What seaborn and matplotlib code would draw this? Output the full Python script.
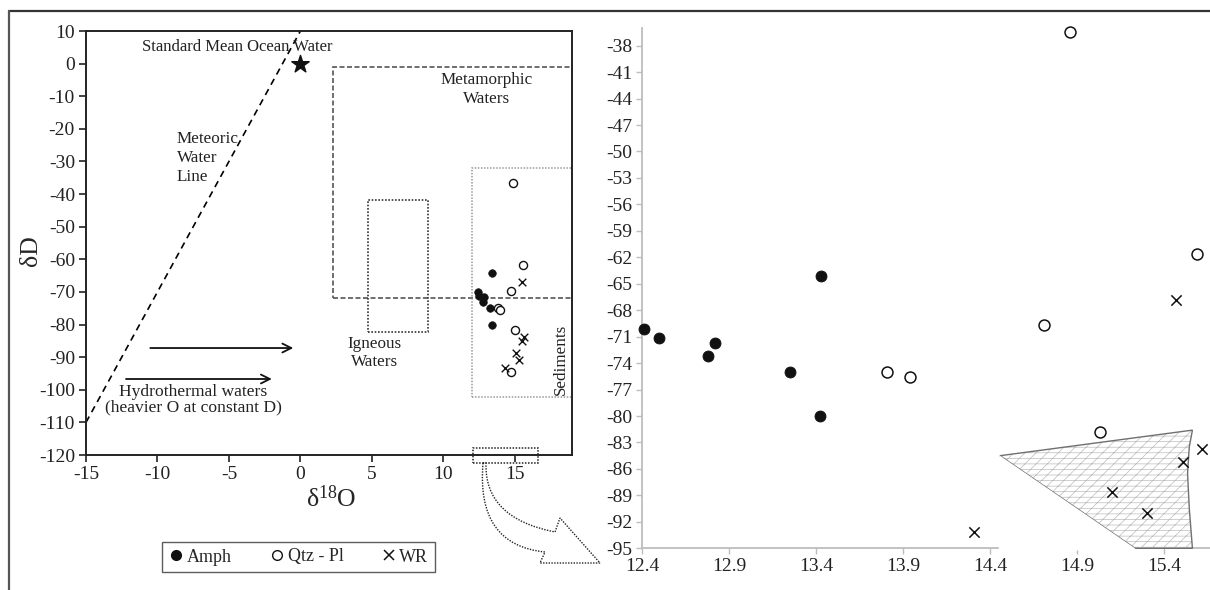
import matplotlib
matplotlib.use("Agg")
import matplotlib.pyplot as plt
import seaborn as sns
import numpy as np
import pandas as pd
from matplotlib.patches import Rectangle, Polygon, PathPatch
from matplotlib.path import Path
from matplotlib.lines import Line2D

# ---------------- data ----------------
amph_d18o = [12.41, 12.50, 12.82, 12.78, 13.25, 13.42, 13.43]
amph_dD = [-70.1, -71.1, -71.7, -73.2, -75.0, -80.0, -64.1]
qtz_d18o = [13.81, 13.94, 14.71, 15.03, 14.86, 15.59, 14.75]
qtz_dD = [-75.0, -75.6, -69.7, -81.8, -36.5, -61.6, -94.5]
wr_d18o = [14.31, 15.47, 15.62, 15.51, 15.10, 15.30]
wr_dD = [-93.2, -66.9, -83.7, -85.2, -88.6, -91.0]
smow_d18o = [0.0]
smow_dD = [0.0]

series_labels = ["Amph", "Qtz - Pl", "WR"]
left_xticks = [-15, -10, -5, 0, 5, 10, 15]
left_yticks = list(range(-120, 11, 10))
right_xticks = [12.4, 12.9, 13.4, 13.9, 14.4, 14.9, 15.4]
right_yticks = list(range(-95, -37, 3))

# meteoric water line: dD = 8*d18O + 10
mwl_d18o = [-15, 0]
mwl_dD = [8 * v + 10 for v in mwl_d18o]

# ---------------- style ----------------
sns.set_theme(style="white")
plt.rcParams["font.family"] = ["Liberation Serif", "DejaVu Serif"]
plt.rcParams["mathtext.default"] = "regular"
plt.rcParams["axes.unicode_minus"] = False
plt.rcParams["hatch.linewidth"] = 0.5

W, H = 1210, 590
fig = plt.figure(figsize=(W / 100, H / 100), dpi=100)
fig.patch.set_facecolor("white")

def fx(px):
    return px / W

def fy(py):
    return 1 - py / H

# ---------------- left panel ----------------
ax1 = fig.add_axes([fx(86), fy(455), fx(572 - 86), (455 - 31) / H])
ax1.set_xlim(-15, 19)
ax1.set_ylim(-120, 10)
for sp in ax1.spines.values():
    sp.set_color("#222222")
    sp.set_linewidth(1.4)
ax1.set_xticks(left_xticks)
ax1.set_yticks(left_yticks)
ax1.tick_params(direction="out", length=5, width=1.2, colors="#222222",
                labelsize=14, left=True, bottom=True, pad=3)
ax1.set_xlabel(r"δ$^{18}$O", fontsize=18.5)
ax1.set_ylabel("δD", fontsize=18.5)
ax1.xaxis.set_label_coords(0.505, -0.072)
ax1.yaxis.set_label_coords(-0.091, 0.483)

# meteoric water line
sns.lineplot(x=mwl_d18o, y=mwl_dD, ax=ax1, color="black", lw=1.2,
             linestyle=(0, (4, 3)), legend=False)

# boxes
ax1.add_patch(Rectangle((2.3, -72), 19 - 2.3, 71, fill=False, ec="#555555",
                        lw=1.2, ls=(0, (3, 1.5)), zorder=2))
ax1.add_patch(Rectangle((4.7, -82.3), 8.9 - 4.7, 82.3 - 41.7, fill=False,
                        ec="#333333", lw=1.2, ls=(0, (1, 1)), zorder=2))
ax1.add_patch(Rectangle((12.0, -102.3), 7.0, 102.3 - 32, fill=False,
                        ec="#9a9a9a", lw=1.1, ls=(0, (1, 1)), zorder=2))
ax1.add_patch(Rectangle((12.1, -122.5), 4.5, 4.7, fill=False, ec="#222222",
                        lw=1.1, ls=(0, (1, 1)), clip_on=False, zorder=2))

# arrows
for y0, xs, xe in [(-87.2, -10.5, -0.5), (-96.7, -12.2, -2.0)]:
    ax1.annotate("", xy=(xe, y0), xytext=(xs, y0),
                 arrowprops=dict(arrowstyle="->", lw=1.3, color="#111111",
                                 mutation_scale=16, shrinkA=0, shrinkB=0))

# text
tk = dict(fontsize=12.3, color="#222222")
ax1.text(-4.4, 5, "Standard Mean Ocean Water", ha="center", va="center",
         fontsize=12, color="#222222")
ax1.text(-8.65, -28.8, "Meteoric\nWater\nLine", ha="left", va="center",
         linespacing=1.25, **tk)
ax1.text(13.0, -7.9, "Metamorphic\nWaters", ha="center", va="center",
         linespacing=1.2, **tk)
ax1.text(5.2, -88.7, "Igneous\nWaters", ha="center", va="center",
         linespacing=1.2, **tk)
ax1.text(-7.5, -103.1, "Hydrothermal waters\n(heavier O at constant D)",
         ha="center", va="center", linespacing=0.95, fontsize=12.6,
         color="#222222")
ax1.text(18.2, -90.8, "Sediments", rotation=90, ha="center", va="center", **tk)

# points
sns.scatterplot(x=smow_d18o, y=smow_dD, ax=ax1, marker="*", s=170,
                color="#111111", edgecolor="#111111", zorder=5, legend=False)
sns.scatterplot(x=amph_d18o, y=amph_dD, ax=ax1, marker="o", s=30,
                color="#111111", edgecolor="#111111", zorder=5, legend=False)
sns.scatterplot(x=qtz_d18o, y=qtz_dD, ax=ax1, marker="o", s=34,
                color="white", edgecolor="#111111", linewidth=1.0, zorder=5,
                legend=False)
sns.scatterplot(x=wr_d18o, y=wr_dD, ax=ax1, marker="x", s=30,
                color="#111111", linewidth=1.0, zorder=5, legend=False)

# ---------------- right panel ----------------
ax2 = fig.add_axes([fx(642), fy(548.3), fx(1210 - 642), (548.3 - 28) / H])
ax2.set_xlim(12.4, 15.664)
ax2.set_ylim(-95, -36)
ax2.spines["top"].set_visible(False)
ax2.spines["right"].set_visible(False)
for k in ("left", "bottom"):
    ax2.spines[k].set_color("#bdbdbd")
    ax2.spines[k].set_linewidth(1.3)
ax2.set_xticks(right_xticks)
ax2.set_xticklabels([f"{v:.1f}" for v in right_xticks])
ax2.set_yticks(right_yticks)
ax2.tick_params(direction="out", length=4, width=1, color="#bdbdbd",
                labelcolor="#222222", labelsize=14, left=True, bottom=True,
                pad=3)

# hatched region
poly_x = [14.457, 15.563, 15.545, 15.535, 15.545, 15.563, 15.233]
poly_y = [-84.5, -81.6, -83.5, -86.5, -90.5, -95.0, -95.0]
pts = list(zip(poly_x, poly_y))
ax2.add_patch(Polygon(pts, closed=True, facecolor="white", edgecolor="#bcbcbc",
                      lw=0, hatch="///---", zorder=1))
ax2.add_patch(Polygon(pts, closed=True, fill=False, edgecolor="#707070",
                      lw=1.0, zorder=3, clip_on=False))
# white cover under the diagonal edge
ax2.add_patch(Polygon([(14.457, -84.5), (15.233, -95.0), (15.233, -95.25),
                       (14.82, -95.25), (14.82, -95.9), (14.68, -95.9),
                       (14.68, -95.25), (14.45, -95.25)], closed=True,
                      facecolor="white", edgecolor="none", zorder=4.5,
                      clip_on=False))

sns.scatterplot(x=amph_d18o, y=amph_dD, ax=ax2, marker="o", s=62,
                color="#111111", edgecolor="#111111", zorder=4, legend=False,
                clip_on=False)
sns.scatterplot(x=qtz_d18o, y=qtz_dD, ax=ax2, marker="o", s=62,
                color="white", edgecolor="#111111", linewidth=1.1, zorder=2.5,
                legend=False, clip_on=False)
sns.scatterplot(x=wr_d18o, y=wr_dD, ax=ax2, marker="x", s=55,
                color="#111111", linewidth=1.1, zorder=4, legend=False,
                clip_on=False)

# ---------------- big dotted arrow (figure decoration, pixel trace) ----------------
arrow_px = [(483, 463), (476, 545), (545, 552), (540, 563), (600, 563),
            (560, 518), (555, 532), (484, 518), (486, 463), (483, 463)]
arrow_codes = [Path.MOVETO, Path.CURVE3, Path.CURVE3, Path.LINETO, Path.LINETO,
               Path.LINETO, Path.LINETO, Path.CURVE3, Path.CURVE3, Path.CLOSEPOLY]
arrow_path = Path([(fx(x), fy(y)) for x, y in arrow_px], arrow_codes)
fig.add_artist(PathPatch(arrow_path, transform=fig.transFigure,
                         facecolor="white", edgecolor="#222222", lw=1.0,
                         linestyle=(0, (1, 1))))

# ---------------- legend ----------------
handles = [
    Line2D([], [], marker="o", ls="none", ms=7, mfc="#111111", mec="#111111"),
    Line2D([], [], marker="o", ls="none", ms=7, mfc="white", mec="#111111", mew=1),
    Line2D([], [], marker="x", ls="none", ms=7, mec="#111111", mew=1.1),
]
leg = fig.legend(handles, series_labels, ncol=3, loc="center",
                 bbox_to_anchor=(fx(298.5), fy(557)), frameon=True,
                 fancybox=False, edgecolor="#333333", fontsize=13,
                 handlelength=0.8, handletextpad=0.2, columnspacing=2.1,
                 borderpad=0.35)
leg.get_frame().set_linewidth(1.0)

# ---------------- outer frame ----------------
fig.add_artist(Line2D([fx(9), 1], [fy(11), fy(11)], transform=fig.transFigure,
                      color="#333333", lw=1.6))
fig.add_artist(Line2D([fx(9), fx(9)], [0, fy(11)], transform=fig.transFigure,
                      color="#555555", lw=1.6))

fig.savefig("out.png", dpi=100, facecolor="white")
